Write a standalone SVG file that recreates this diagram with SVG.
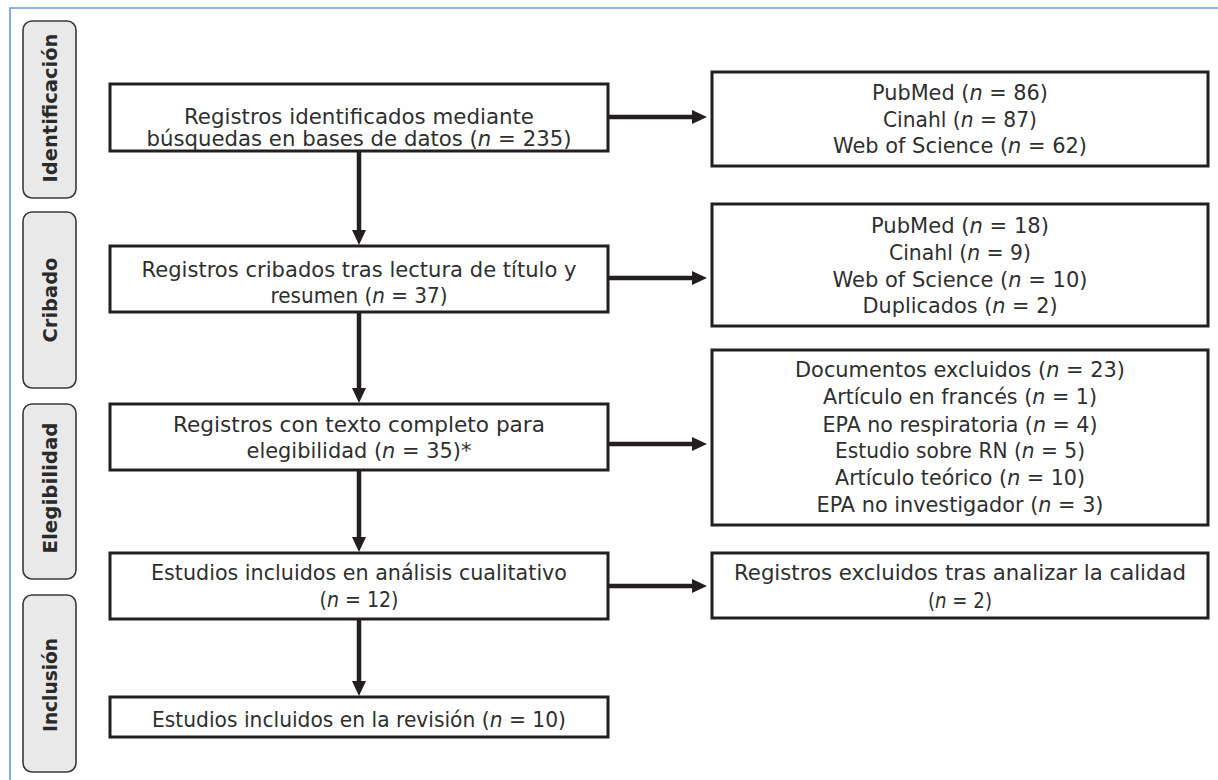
<svg xmlns="http://www.w3.org/2000/svg" width="1218" height="780" viewBox="0 0 1218 780">
<defs>
<style>
.frame{fill:none;stroke:#6a9bd3;stroke-width:1.6}
.phase rect{fill:#e9e9e9;stroke:#3a3a3a;stroke-width:1.6}
.phase text{font-family:"DejaVu Sans","Liberation Sans",sans-serif;font-weight:bold;font-size:19px;fill:#2a2a2a;text-anchor:middle}
.box rect{fill:#ffffff;stroke:#231f20;stroke-width:3}
.box text{font-family:"DejaVu Sans","Liberation Sans",sans-serif;font-size:20.5px;fill:#2f2f2f;text-anchor:middle}
.i{font-style:italic}
.conn line{stroke:#231f20;stroke-width:4.5}
</style>
<marker id="ah" markerUnits="userSpaceOnUse" markerWidth="15" markerHeight="14" refX="3" refY="7" orient="auto">
<path d="M0,0 L15,7 L0,14 Z" fill="#231f20"/>
</marker>
</defs>
<rect width="1218" height="780" fill="#ffffff"/>
<path class="frame" d="M10,780 V8 H1218"/>

<g id="phase-identificacion" class="phase">
<rect x="23" y="21" width="53" height="177" rx="9"/>
<text transform="translate(50,108) rotate(-90)" y="7" textLength="149" lengthAdjust="spacingAndGlyphs">Identificación</text>
</g>
<g id="phase-cribado" class="phase">
<rect x="23" y="212" width="53" height="176" rx="9"/>
<text transform="translate(50,300) rotate(-90)" y="7" textLength="85" lengthAdjust="spacingAndGlyphs">Cribado</text>
</g>
<g id="phase-elegibilidad" class="phase">
<rect x="23" y="404" width="53" height="175" rx="9"/>
<text transform="translate(50,488) rotate(-90)" y="7" textLength="131" lengthAdjust="spacingAndGlyphs">Elegibilidad</text>
</g>
<g id="phase-inclusion" class="phase">
<rect x="23" y="595" width="53" height="177" rx="9"/>
<text transform="translate(50,685) rotate(-90)" y="7" textLength="94" lengthAdjust="spacingAndGlyphs">Inclusión</text>
</g>

<g id="n-identificados" class="box">
<rect x="110" y="84" width="498" height="67"/>
<text x="359" y="124" textLength="350" lengthAdjust="spacingAndGlyphs">Registros identificados mediante</text>
<text x="359" y="146" textLength="425" lengthAdjust="spacingAndGlyphs">búsquedas en bases de datos (<tspan class="i">n</tspan> = 235)</text>
</g>
<g id="n-bases" class="box">
<rect x="712" y="72" width="496" height="94"/>
<text x="960" y="100" textLength="176" lengthAdjust="spacingAndGlyphs">PubMed (<tspan class="i">n</tspan> = 86)</text>
<text x="960" y="127" textLength="154" lengthAdjust="spacingAndGlyphs">Cinahl (<tspan class="i">n</tspan> = 87)</text>
<text x="960" y="153" textLength="254" lengthAdjust="spacingAndGlyphs">Web of Science (<tspan class="i">n</tspan> = 62)</text>
</g>
<g id="n-cribados" class="box">
<rect x="110" y="246" width="498" height="66"/>
<text x="359" y="277" textLength="435" lengthAdjust="spacingAndGlyphs">Registros cribados tras lectura de título y</text>
<text x="359" y="303" textLength="177" lengthAdjust="spacingAndGlyphs">resumen (<tspan class="i">n</tspan> = 37)</text>
</g>
<g id="n-excl-cribado" class="box">
<rect x="712" y="204" width="496" height="122"/>
<text x="960" y="233" textLength="178" lengthAdjust="spacingAndGlyphs">PubMed (<tspan class="i">n</tspan> = 18)</text>
<text x="960" y="260" textLength="142" lengthAdjust="spacingAndGlyphs">Cinahl (<tspan class="i">n</tspan> = 9)</text>
<text x="960" y="287" textLength="255" lengthAdjust="spacingAndGlyphs">Web of Science (<tspan class="i">n</tspan> = 10)</text>
<text x="960" y="313" textLength="195" lengthAdjust="spacingAndGlyphs">Duplicados (<tspan class="i">n</tspan> = 2)</text>
</g>
<g id="n-elegibilidad" class="box">
<rect x="110" y="404" width="498" height="66"/>
<text x="359" y="432" textLength="372" lengthAdjust="spacingAndGlyphs">Registros con texto completo para</text>
<text x="359" y="458" textLength="225" lengthAdjust="spacingAndGlyphs">elegibilidad (<tspan class="i">n</tspan> = 35)*</text>
</g>
<g id="n-excl-elegibilidad" class="box">
<rect x="712" y="350" width="496" height="175"/>
<text x="960" y="377" textLength="330" lengthAdjust="spacingAndGlyphs">Documentos excluidos (<tspan class="i">n</tspan> = 23)</text>
<text x="960" y="404" textLength="274" lengthAdjust="spacingAndGlyphs">Artículo en francés (<tspan class="i">n</tspan> = 1)</text>
<text x="960" y="432" textLength="275" lengthAdjust="spacingAndGlyphs">EPA no respiratoria (<tspan class="i">n</tspan> = 4)</text>
<text x="960" y="458" textLength="250" lengthAdjust="spacingAndGlyphs">Estudio sobre RN (<tspan class="i">n</tspan> = 5)</text>
<text x="960" y="485" textLength="250" lengthAdjust="spacingAndGlyphs">Artículo teórico (<tspan class="i">n</tspan> = 10)</text>
<text x="960" y="512" textLength="287" lengthAdjust="spacingAndGlyphs">EPA no investigador (<tspan class="i">n</tspan> = 3)</text>
</g>
<g id="n-cualitativo" class="box">
<rect x="110" y="553" width="498" height="66"/>
<text x="359" y="580" textLength="416" lengthAdjust="spacingAndGlyphs">Estudios incluidos en análisis cualitativo</text>
<text x="359" y="607" textLength="79" lengthAdjust="spacingAndGlyphs">(<tspan class="i">n</tspan> = 12)</text>
</g>
<g id="n-excl-calidad" class="box">
<rect x="712" y="553" width="496" height="65"/>
<text x="960" y="580" textLength="452" lengthAdjust="spacingAndGlyphs">Registros excluidos tras analizar la calidad</text>
<text x="960" y="608" textLength="64" lengthAdjust="spacingAndGlyphs">(<tspan class="i">n</tspan> = 2)</text>
</g>
<g id="n-revision" class="box">
<rect x="110" y="697" width="498" height="40"/>
<text x="359" y="727" textLength="414" lengthAdjust="spacingAndGlyphs">Estudios incluidos en la revisión (<tspan class="i">n</tspan> = 10)</text>
</g>

<g id="connectors" class="conn">
<line x1="359" y1="152" x2="359" y2="233" marker-end="url(#ah)"/>
<line x1="359" y1="313" x2="359" y2="391" marker-end="url(#ah)"/>
<line x1="359" y1="471" x2="359" y2="540" marker-end="url(#ah)"/>
<line x1="359" y1="620" x2="359" y2="684" marker-end="url(#ah)"/>
<line x1="609" y1="117" x2="695" y2="117" marker-end="url(#ah)"/>
<line x1="609" y1="278" x2="695" y2="278" marker-end="url(#ah)"/>
<line x1="609" y1="444" x2="695" y2="444" marker-end="url(#ah)"/>
<line x1="609" y1="586" x2="695" y2="586" marker-end="url(#ah)"/>
</g>
</svg>
